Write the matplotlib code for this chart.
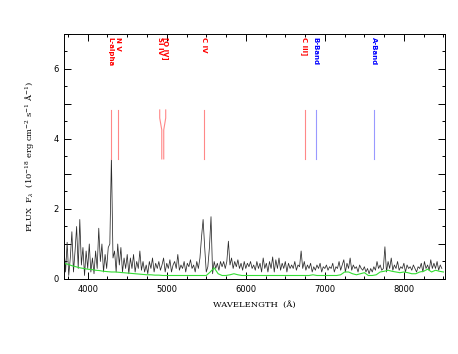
import numpy as np
import matplotlib
matplotlib.use("Agg")
import matplotlib.pyplot as plt
from matplotlib.ticker import MultipleLocator, FuncFormatter

plt.rcParams['mathtext.fontset'] = 'dejavuserif'

# spectrum, sampled every 20 A from 3700 A
wave_start, wave_step = 3700, 20
flux = [
    0.9, 0.2, 1.05, 0.1, 0.6,   1.35, 0.2, 0.8, 1.5, 0.3,
    1.7, 0.4, 0.9, 0.1, 0.8,    0.3, 1.0, 0.2, 0.6, 0.15,
    0.8, 0.3, 1.45, 0.5, 1.0,   0.2, 0.7, 0.3, 0.9, 1.0,
    3.5, 0.6, 0.8, 0.2, 1.0,    0.4, 0.9, 0.2, 0.6, 0.3,
    0.7, 0.15, 0.6, 0.3, 0.7,   0.2, 0.5, 0.3, 0.8, 0.25,
    0.5, 0.2, 0.4, 0.15, 0.5,   0.3, 0.6, 0.2, 0.45, 0.3,
    0.5, 0.25, 0.4, 0.6, 0.2,   0.45, 0.3, 0.55, 0.2, 0.4,
    0.5, 0.3, 0.7, 0.25, 0.4,   0.3, 0.5, 0.2, 0.45, 0.35,
    0.55, 0.3, 0.4, 0.2, 0.5,   0.3, 0.6, 1.2, 1.7, 0.9,
    0.2, 0.35, 0.9, 1.78, 0.15, 0.5, 0.3, 0.45, 0.25, 0.5,
    0.35, 0.5, 0.3, 0.5, 1.08,  0.4, 0.6, 0.3, 0.5, 0.35,
    0.55, 0.3, 0.45, 0.25, 0.5, 0.3, 0.45, 0.35, 0.5, 0.3,
    0.4, 0.25, 0.5, 0.3, 0.45,  0.2, 0.6, 0.3, 0.45, 0.2,
    0.5, 0.3, 0.63, 0.2, 0.55,  0.3, 0.6, 0.25, 0.45, 0.3,
    0.5, 0.2, 0.45, 0.3, 0.4,   0.3, 0.5, 0.25, 0.4, 0.35,
    0.8, 0.3, 0.5, 0.25, 0.4,   0.3, 0.45, 0.2, 0.35, 0.25,
    0.4, 0.3, 0.45, 0.2, 0.35,  0.3, 0.4, 0.25, 0.35, 0.3,
    0.45, 0.2, 0.35, 0.3, 0.5,  0.25, 0.4, 0.55, 0.2, 0.45,
    0.3, 0.6, 0.25, 0.4, 0.3,   0.35, 0.2, 0.4, 0.3, 0.25,
    0.35, 0.2, 0.3, 0.15, 0.3,  0.2, 0.35, 0.25, 0.5, 0.3,
    0.4, 0.25, 0.3, 0.92, 0.2,  0.5, 0.3, 0.6, 0.25, 0.4,
    0.3, 0.5, 0.25, 0.35, 0.3,  0.45, 0.2, 0.4, 0.3, 0.35,
    0.25, 0.4, 0.3, 0.2, 0.35,  0.3, 0.45, 0.2, 0.5, 0.3,
    0.4, 0.25, 0.55, 0.3, 0.45, 0.3, 0.5, 0.25, 0.4, 0.3,
]

# error spectrum, sampled every 50 A from 3700 A
err_start, err_step = 3700, 50
error = [
    0.45, 0.42, 0.38, 0.35, 0.32, 0.30, 0.28, 0.27, 0.25, 0.24,
    0.22, 0.21, 0.20, 0.20, 0.19, 0.18, 0.17, 0.16, 0.15, 0.14,
    0.13, 0.12, 0.12, 0.11, 0.11, 0.10, 0.10, 0.10, 0.10, 0.10,
    0.10, 0.10, 0.10, 0.10, 0.10, 0.10, 0.10, 0.20, 0.32, 0.15,
    0.10, 0.10, 0.12, 0.15, 0.12, 0.10, 0.10, 0.10, 0.10, 0.10,
    0.10, 0.10, 0.10, 0.10, 0.10, 0.10, 0.10, 0.10, 0.10, 0.10,
    0.10, 0.10, 0.10, 0.12, 0.10, 0.10, 0.10, 0.10, 0.10, 0.10,
    0.12, 0.20, 0.20, 0.15, 0.12, 0.15, 0.18, 0.10, 0.10, 0.12,
    0.20, 0.22, 0.25, 0.22, 0.20, 0.18, 0.20, 0.18, 0.15, 0.15,
    0.20, 0.22, 0.28, 0.20, 0.25, 0.22, 0.20,
]

# line identifications: label, label wavelength, line wavelength, colour
line_names = ["L-alpha", "N V", "Si IV", "[O IV]", "C IV", "C III]", "B-Band", "A-Band"]
line_label_wave = [4291, 4380, 4911, 4987, 5468, 6747, 6886, 7620]
line_wave = [4291, 4380, 4937, 4962, 5468, 6747, 6886, 7620]
line_kind = ["em", "em", "em", "em", "em", "em", "abs", "abs"]

wave = wave_start + wave_step * np.arange(len(flux))
err_wave = err_start + err_step * np.arange(len(error))

fig = plt.figure(figsize=(4.58, 3.54), dpi=100)
ax = fig.add_axes([0.1397, 0.2119, 0.8319, 0.6921])

ax.plot(wave, flux, color='#2a2a2a', lw=0.55)
ax.plot(err_wave, error, color='#33dd33', lw=0.8)

text_col = {"em": "#ff0000", "abs": "#0000ff"}
mark_col = {"em": "#ff8888", "abs": "#9999ff"}
y_top, y_bend1, y_bend2, y_bot = 4.83, 4.6, 4.26, 3.43
for name, lx, wx, kind in zip(line_names, line_label_wave, line_wave, line_kind):
    ax.plot([lx, lx, wx, wx], [y_top, y_bend1, y_bend2, y_bot],
            color=mark_col[kind], lw=0.8)
    ax.text(lx, 6.9, name, rotation=-90, ha='center', va='top',
            color=text_col[kind], fontsize=5, fontweight='bold',
            family=['Liberation Sans Narrow', 'DejaVu Sans'])

ax.set_xlim(3700, 8520)
ax.set_ylim(0, 7)
ax.xaxis.set_major_locator(MultipleLocator(1000))
ax.xaxis.set_minor_locator(MultipleLocator(250))
ax.yaxis.set_major_locator(MultipleLocator(1))
ax.yaxis.set_minor_locator(MultipleLocator(0.5))
ax.yaxis.set_major_formatter(FuncFormatter(lambda v, p: "%d" % v if int(round(v)) % 2 == 0 else ""))
ax.tick_params(which='both', direction='in', top=True, right=True,
               labelsize=6, width=0.7, pad=4)
ax.tick_params(which='major', length=5)
ax.tick_params(which='minor', length=2.5)
for s in ax.spines.values():
    s.set_linewidth(0.7)

ax.set_xlabel("WAVELENGTH  (Å)", family='DejaVu Serif', fontsize=6, labelpad=5)
ax.set_ylabel(r"FLUX  F$_\lambda$  (10$^{-18}$ erg cm$^{-2}$ s$^{-1}$ Å$^{-1}$)",
              family='DejaVu Serif', fontsize=6, labelpad=12)

fig.savefig("out.png", dpi=100)
